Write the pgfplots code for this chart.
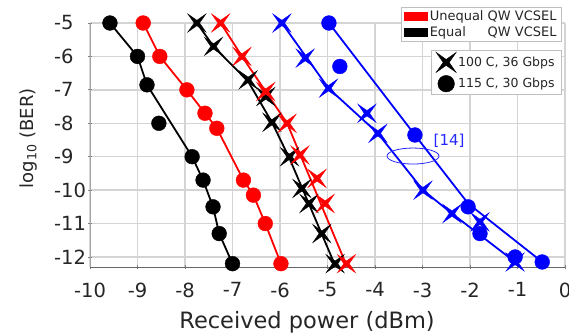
\documentclass[border=0pt]{standalone}
\usepackage{pgfplots}
\pgfplotsset{compat=1.18}
\usepackage{fontspec}
\setmainfont{DejaVu Sans}
\definecolor{gridc}{RGB}{212,212,212}
\pgfdeclareplotmark{xstar}{%
  \pgfpathmoveto{\pgfqpoint{\pgfplotmarksize}{\pgfplotmarksize}}%
  \pgfpathlineto{\pgfqpoint{0pt}{0.3\pgfplotmarksize}}%
  \pgfpathlineto{\pgfqpoint{-\pgfplotmarksize}{\pgfplotmarksize}}%
  \pgfpathlineto{\pgfqpoint{-0.3\pgfplotmarksize}{0pt}}%
  \pgfpathlineto{\pgfqpoint{-\pgfplotmarksize}{-\pgfplotmarksize}}%
  \pgfpathlineto{\pgfqpoint{0pt}{-0.3\pgfplotmarksize}}%
  \pgfpathlineto{\pgfqpoint{\pgfplotmarksize}{-\pgfplotmarksize}}%
  \pgfpathlineto{\pgfqpoint{0.3\pgfplotmarksize}{0pt}}%
  \pgfpathclose
  \pgfusepathqfillstroke
}
\pgfplotsset{
  lineS/.style={line width=1.8pt, no marks},
  circS/.style={only marks, mark=*, mark size=7.4pt, mark options={line width=0.4pt}},
  crossS/.style={only marks, mark=xstar, mark size=9pt, mark options={line width=0.4pt}},
  markleg/.style={legend image code/.code={\draw[##1] plot coordinates {(12pt,0pt)};}},
  rectleg/.style={legend image code/.code={\fill[##1] (0pt,-4pt) rectangle (23pt,4pt);}},
}
\begin{document}
\begin{tikzpicture}
\path[use as bounding box] (0,0) rectangle (569pt,333pt);
\begin{axis}[
  at={(90pt,66pt)}, anchor=south west,
  width=475pt, height=244pt, scale only axis,
  xmin=-10, xmax=0, ymin=-12.3, ymax=-5,
  xtick={-10,-9,...,0}, ytick={-12,-11,...,-5},
  axis x line=bottom, axis y line=left,
  x axis line style={-, draw=black!60, line width=1pt},
  y axis line style={-, draw=black!35, line width=1pt},
  grid=major, grid style={gridc, line width=1.4pt},
  major tick length=4pt, tick style={draw=black!50, line width=0.8pt},
  /pgf/number format/assume math mode=true,
  xticklabel style={font=\fontsize{19.5}{20}\selectfont, text=black!85, yshift=-10pt},
  yticklabel style={font=\fontsize{19.5}{20}\selectfont, text=black!85, anchor=west, inner sep=0pt, xshift=-34pt},
  every axis x label/.style={at={(axis description cs:0.457,-0.25)}, anchor=base},
  every axis y label/.style={at={(axis description cs:-0.12,0.527)}, anchor=base, rotate=90},
  xlabel={\fontsize{22.5}{24}\selectfont Received power (dBm)},
  ylabel={\fontsize{18}{20}\selectfont log\textsubscript{10} (BER)},
  label style={text=black!85},
  clip=false,
  legend cell align=left,
  legend style={at={(axis description cs:0.9937,1.0656)}, anchor=north east,
    draw=black!25, line width=0.8pt, fill=white, font=\fontsize{13}{15}\selectfont,
    text=black!85, inner xsep=3pt, inner ysep=1pt, row sep=1pt},
]
% legend 1 images (first, so that the entries belong to them)
\addlegendimage{red, rectleg}
\addlegendentry{Unequal QW VCSEL}
\addlegendimage{black, rectleg}
\addlegendentry{\rlap{Equal}\phantom{Unequal} QW VCSEL}
% fitted lines
\addplot[black, lineS, forget plot] coordinates {(-9.58,-5) (-9.0,-6) (-8.8,-6.85) (-7.85,-9) (-7.62,-9.7) (-7.41,-10.5) (-7.28,-11.3) (-7.0,-12.2)};
\addplot[red, lineS, forget plot] coordinates {(-8.88,-5) (-8.53,-6) (-7.96,-7) (-7.58,-7.7) (-7.33,-8.15) (-6.77,-9.7) (-6.56,-10.15) (-6.31,-11) (-5.98,-12.2)};
\addplot[black, lineS, forget plot] coordinates {(-7.75,-5) (-7.4,-5.7) (-6.67,-6.75) (-6.17,-7.97) (-5.8,-9.05) (-4.84,-12.25)};
\addplot[red, lineS, forget plot] coordinates {(-7.25,-5) (-6.8,-6) (-5.85,-8) (-4.6,-12.25)};
\addplot[blue, lineS, forget plot] coordinates {(-5.96,-5) (-4.98,-6.95) (-3.94,-8.3) (-2.99,-10) (-2.38,-10.7) (-1.05,-12.15)};
\addplot[blue, lineS, forget plot] coordinates {(-4.97,-5) (-3.16,-8.35) (-2.04,-10.4) (-0.48,-12.15)};
% markers
\addplot[black, circS, forget plot] coordinates {(-9.58,-5) (-9.0,-6) (-8.8,-6.85) (-8.55,-8) (-7.85,-9) (-7.62,-9.7) (-7.41,-10.5) (-7.28,-11.3) (-7.0,-12.2)};
\addplot[red, circS, forget plot] coordinates {(-8.88,-5) (-8.53,-6) (-7.96,-7) (-7.58,-7.7) (-7.33,-8.15) (-6.77,-9.7) (-6.56,-10.15) (-6.31,-11) (-5.98,-12.2)};
\addplot[black, crossS, forget plot] coordinates {(-7.75,-5) (-7.4,-5.7) (-6.67,-6.7) (-6.3,-7.2) (-6.17,-7.97) (-5.8,-9.0) (-5.54,-9.95) (-5.39,-10.4) (-5.12,-11.3) (-4.84,-12.2)};
\addplot[red, crossS, forget plot] coordinates {(-7.25,-5) (-6.8,-6) (-6.3,-7.05) (-5.85,-8) (-5.58,-8.95) (-5.22,-9.65) (-5.05,-10.4) (-4.6,-12.2)};
\addplot[blue, crossS, forget plot] coordinates {(-5.96,-5) (-5.47,-6.05) (-4.98,-6.95) (-4.17,-7.7) (-3.94,-8.3) (-2.99,-10) (-2.38,-10.7) (-1.79,-10.95) (-1.05,-12.15)};
\addplot[blue, circS, forget plot] coordinates {(-4.97,-5) (-4.74,-6.3) (-3.16,-8.35) (-2.04,-10.5) (-1.79,-11.3) (-1.05,-12.0) (-0.48,-12.15)};
% annotation
\draw[blue!85!white, line width=0.8pt] (axis cs:-3.2,-8.98) ellipse [x radius=26pt, y radius=8pt];
\node[blue!85!white, font=\fontsize{15}{16}\selectfont] at (axis cs:-2.44,-8.52) {[14]};
\end{axis}
\begin{axis}[
  at={(90pt,66pt)}, anchor=south west,
  width=475pt, height=244pt, scale only axis,
  xmin=-10, xmax=0, ymin=-12.3, ymax=-5,
  hide axis,
  legend cell align=left,
  legend style={at={(axis description cs:0.9937,0.8893)}, anchor=north east,
    draw=black!25, line width=0.8pt, fill=white, font=\fontsize{12.5}{14}\selectfont,
    text=black!85, inner xsep=5pt, inner ysep=2pt, row sep=3pt},
]
\addlegendimage{black, only marks, mark=xstar, mark size=10pt, mark options={line width=0.4pt}, markleg}
\addlegendentry{100 C, 36 Gbps}
\addlegendimage{black, only marks, mark=*, mark size=8.3pt, mark options={line width=0.4pt}, markleg}
\addlegendentry{115 C, 30 Gbps}
\end{axis}
\end{tikzpicture}
\end{document}
